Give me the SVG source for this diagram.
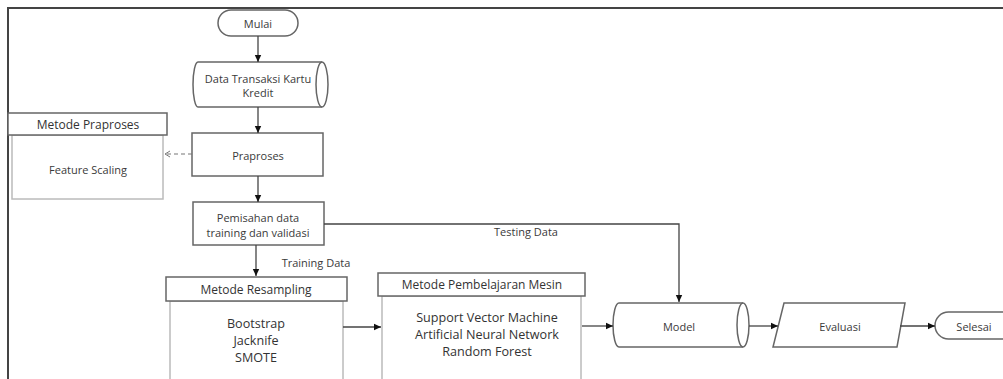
<svg xmlns="http://www.w3.org/2000/svg" width="1003" height="379" viewBox="0 0 1003 379">
<style>
.t{font-family:"Open Sans","Liberation Sans",sans-serif;font-size:11px;fill:#3a3a3a;text-anchor:middle;dominant-baseline:central}
.big{font-size:12.6px;fill:#333}
.hd{font-size:12px;fill:#333}
.sh{fill:#fff;stroke:#666;stroke-width:1.5}
.lt{fill:#fff;stroke:#bbb;stroke-width:1.5}
.ln{fill:none;stroke:#444;stroke-width:1.3}
</style>
<defs>
<marker id="ah" markerWidth="8" markerHeight="8" refX="7" refY="4" orient="auto" markerUnits="userSpaceOnUse">
<path d="M0,0.8 L7,4 L0,7.2 Z" fill="#111"/>
</marker>
<marker id="oa" markerWidth="8" markerHeight="8" refX="6" refY="4" orient="auto" markerUnits="userSpaceOnUse">
<path d="M1,1 L6,4 L1,7" fill="none" stroke="#777" stroke-width="1"/>
</marker>
</defs>
<rect width="1003" height="379" fill="#fff"/>
<path d="M8,379 L8,8 L1003,8" fill="none" stroke="#444" stroke-width="2"/>

<g id="mulai">
<rect class="sh" x="218" y="10" width="80" height="26" rx="13"/>
<text class="t" x="258" y="23">Mulai</text>
</g>

<g id="data">
<path class="sh" d="M198,62 L322,62 A6,22.5 0 0 1 322,107 L198,107 A5,22.5 0 0 1 198,62 Z"/>
<path d="M322,62 A6,22.5 0 0 0 322,107" fill="none" stroke="#666" stroke-width="1.5"/>
<text class="t" x="258" y="78">Data Transaksi Kartu</text>
<text class="t" x="258" y="92">Kredit</text>
</g>

<g id="metode-praproses">
<rect class="lt" x="12" y="135" width="151" height="64"/>
<rect class="sh" x="8" y="113" width="159" height="22"/>
<text class="t hd" x="88" y="124">Metode Praproses</text>
<text class="t" x="88" y="169">Feature Scaling</text>
</g>

<g id="praproses">
<rect class="sh" x="192" y="133" width="131" height="43"/>
<text class="t" x="258" y="155">Praproses</text>
</g>

<g id="pemisahan">
<rect class="sh" x="193" y="202" width="131" height="43"/>
<text class="t" x="258" y="217">Pemisahan data</text>
<text class="t" x="258" y="232">training dan validasi</text>
</g>

<g id="metode-resampling">
<rect class="lt" x="170" y="301" width="173" height="90"/>
<rect class="sh" x="166" y="277" width="181" height="24"/>
<text class="t hd" x="256" y="289">Metode Resampling</text>
<text class="t big" x="256" y="323">Bootstrap</text>
<text class="t big" x="256" y="340">Jacknife</text>
<text class="t big" x="256" y="357">SMOTE</text>
</g>

<g id="metode-ml">
<rect class="lt" x="382" y="296" width="199" height="95"/>
<rect class="sh" x="378" y="273" width="207" height="23"/>
<text class="t hd" x="482" y="284.5">Metode Pembelajaran Mesin</text>
<text class="t big" x="487" y="317">Support Vector Machine</text>
<text class="t big" x="487" y="334">Artificial Neural Network</text>
<text class="t big" x="487" y="351">Random Forest</text>
</g>

<g id="model">
<path class="sh" d="M619,303 L743,303 A6,22 0 0 1 743,347 L619,347 A6,22 0 0 1 619,303 Z"/>
<path d="M743,303 A6,22 0 0 0 743,347" fill="none" stroke="#666" stroke-width="1.5"/>
<text class="t" x="679" y="326">Model</text>
</g>

<g id="evaluasi">
<polygon class="sh" points="784,303 905,303 897,347 773,347"/>
<text class="t" x="840" y="326">Evaluasi</text>
</g>

<g id="selesai">
<rect class="sh" x="935" y="312" width="90" height="27" rx="13.5"/>
<text class="t" x="974" y="326">Selesai</text>
</g>

<g id="connectors">
<line class="ln" x1="258" y1="36" x2="258" y2="62" marker-end="url(#ah)"/>
<line class="ln" x1="258" y1="107" x2="258" y2="133" marker-end="url(#ah)"/>
<line x1="192" y1="154" x2="165" y2="154" stroke="#777" stroke-width="1.2" stroke-dasharray="4,3" marker-end="url(#oa)"/>
<line class="ln" x1="258" y1="176" x2="258" y2="202" marker-end="url(#ah)"/>
<polyline class="ln" points="324,224 679,224 679,302" marker-end="url(#ah)"/>
<line class="ln" x1="256" y1="245" x2="256" y2="276" marker-end="url(#ah)"/>
<line class="ln" x1="343" y1="327" x2="381" y2="327" marker-end="url(#ah)"/>
<line class="ln" x1="582" y1="326" x2="613" y2="326" marker-end="url(#ah)"/>
<line class="ln" x1="749" y1="326" x2="778" y2="326" marker-end="url(#ah)"/>
<line class="ln" x1="900" y1="326" x2="935" y2="326" marker-end="url(#ah)"/>
<text class="t" x="526" y="231">Testing Data</text>
<text class="t" x="316" y="262">Training Data</text>
</g>
</svg>
